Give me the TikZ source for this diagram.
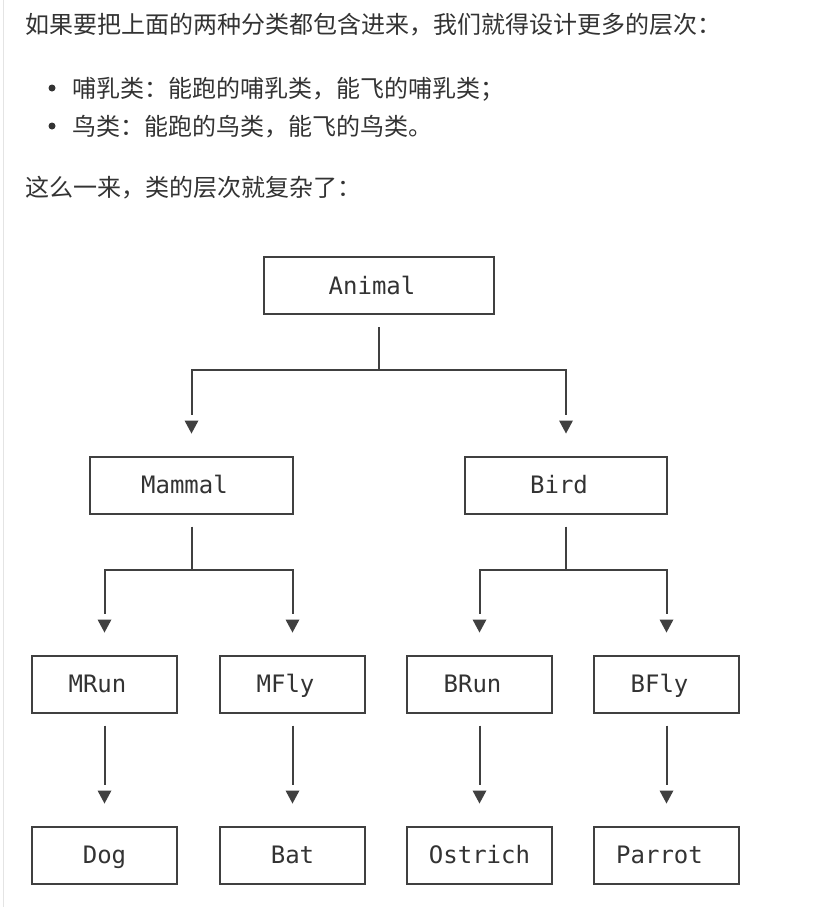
\documentclass[tikz,border=0pt]{standalone}
\usepackage{fontspec}
\newfontfamily\cjk{Noto Sans CJK SC}
\setmonofont{DejaVu Sans Mono}
\usetikzlibrary{calc}
\definecolor{txt}{HTML}{333333}
\definecolor{ln}{HTML}{404040}
\definecolor{bord}{HTML}{E4E4E4}
\newcommand\shl{\hspace*{-14pt}}
\newcommand\tipat[1]{\fill[ln] ($(#1.north)+(0,-22)$) -- ++(-7,-13) -- ++(14,0) -- cycle;}
\begin{document}
\begin{tikzpicture}[x=1pt,y=-1pt,
  box/.style={draw=ln,line width=2pt,minimum height=57pt,inner sep=0pt,
    text height=17.5pt,text depth=0pt,
    font=\ttfamily\fontsize{24}{28}\selectfont,text=txt},
  wide/.style={box,minimum width=203pt},
  small/.style={box,minimum width=145pt},
  conn/.style={draw=ln,line width=2pt},
  zh/.style={anchor=base west,inner sep=0pt,text=txt,font=\cjk\fontsize{24}{28}\selectfont}]
\useasboundingbox[fill=white] (0,0) rectangle (814,907);
\draw[bord,line width=1.5pt] (3.5,0) -- (3.5,907);

% text
\node[zh] (l1) at (25,34) {如果要把上面的两种分类都包含进来，我们就得设计更多的层次：};
\fill[txt] (52,88) circle (3.5);
\node[zh] (b1) at (72,97) {哺乳类：能跑的哺乳类，能飞的哺乳类；};
\fill[txt] (52,126) circle (3.5);
\node[zh] (b2) at (72,135) {鸟类：能跑的鸟类，能飞的鸟类。};
\node[zh] (l3) at (25,196) {这么一来，类的层次就复杂了：};

% boxes
\node[box,minimum width=230pt] (animal) at (379,285.5) {\shl Animal};
\node[wide] (mammal) at (191.5,485) {\shl Mammal};
\node[wide,minimum width=202pt] (bird) at (566,485) {\shl Bird};
\node[small] (mrun) at (104.5,684) {\shl MRun};
\node[small] (mfly) at (292.5,684) {\shl MFly};
\node[small] (brun) at (479.5,684) {\shl BRun};
\node[small] (bfly) at (666.5,684) {\shl BFly};
\node[small] (dog) at (104.5,855) {Dog};
\node[small] (bat) at (292.5,855) {Bat};
\node[small] (ostrich) at (479.5,855) {Ostrich};
\node[small] (parrot) at (666.5,855) {\shl Parrot};

% connectors
\draw[conn] ($(animal.south)+(0,12)$) -- ++(0,43) coordinate (ja);
\draw[conn] ($(mammal.north)+(0,-41)$) |- (ja) -| ($(bird.north)+(0,-41)$);
\tipat{mammal}\tipat{bird}

\draw[conn] ($(mammal.south)+(0,12)$) -- ++(0,43) coordinate (jm);
\draw[conn] ($(mrun.north)+(0,-41)$) |- (jm) -| ($(mfly.north)+(0,-41)$);
\draw[conn] ($(bird.south)+(0,12)$) -- ++(0,43) coordinate (jb);
\draw[conn] ($(brun.north)+(0,-41)$) |- (jb) -| ($(bfly.north)+(0,-41)$);
\tipat{mrun}\tipat{mfly}\tipat{brun}\tipat{bfly}

\draw[conn] ($(mrun.south)+(0,12)$) -- ($(dog.north)+(0,-41)$);
\draw[conn] ($(mfly.south)+(0,12)$) -- ($(bat.north)+(0,-41)$);
\draw[conn] ($(brun.south)+(0,12)$) -- ($(ostrich.north)+(0,-41)$);
\draw[conn] ($(bfly.south)+(0,12)$) -- ($(parrot.north)+(0,-41)$);
\tipat{dog}\tipat{bat}\tipat{ostrich}\tipat{parrot}
\end{tikzpicture}
\end{document}
